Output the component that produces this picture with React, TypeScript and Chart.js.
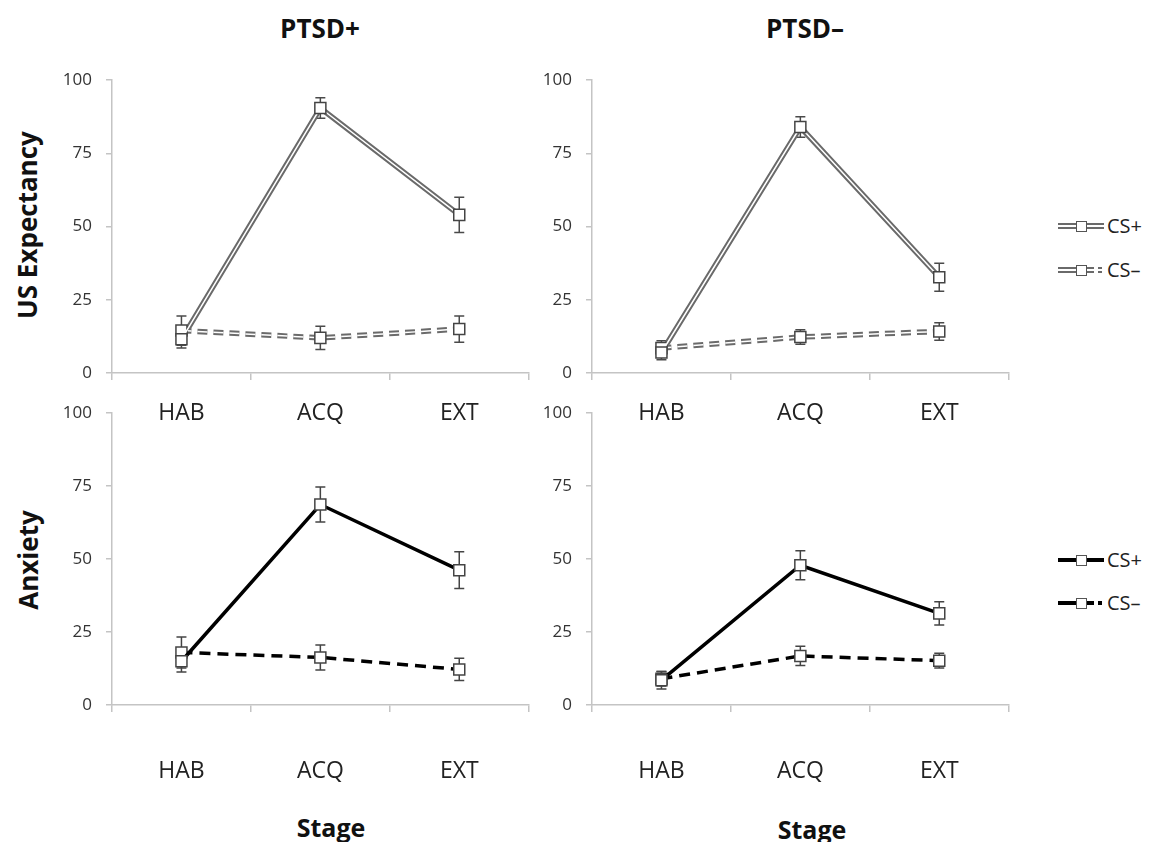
import React, { useEffect, useRef } from "react";
import { Chart, registerables } from "chart.js";

Chart.register(...registerables);

const FONT = "'Open Sans', 'DejaVu Sans', sans-serif";

const stages = ["HAB", "ACQ", "EXT"];
const yTickStep = 25;
const yMin = 0;
const yMax = 100;

const panelTitles = ["PTSD+", "PTSD–"];
const rowTitles = ["US Expectancy", "Anxiety"];
const xTitle = "Stage";
const seriesNames = ["CS+", "CS–"];

// US Expectancy, PTSD+
const expPosCSPlus = [11.5, 90.5, 54];
const expPosCSPlusErr = [3, 3.5, 6];
const expPosCSMinus = [14.5, 12, 15];
const expPosCSMinusErr = [5, 4, 4.5];

// US Expectancy, PTSD–
const expNegCSPlus = [7, 84, 32.7];
const expNegCSPlusErr = [2.5, 3.5, 4.8];
const expNegCSMinus = [8.5, 12.3, 14.2];
const expNegCSMinusErr = [2.5, 2.5, 3];

// Anxiety, PTSD+
const anxPosCSPlus = [15, 68.7, 46.2];
const anxPosCSPlusErr = [3.7, 6, 6.3];
const anxPosCSMinus = [18, 16.3, 12.2];
const anxPosCSMinusErr = [5.3, 4.3, 3.8];

// Anxiety, PTSD–
const anxNegCSPlus = [8.5, 47.9, 31.4];
const anxNegCSPlusErr = [3, 5, 4];
const anxNegCSMinus = [9, 16.8, 15.2];
const anxNegCSMinusErr = [2.5, 3.3, 2.5];

const errorBarPlugin = {
  id: "errorBars",
  beforeDatasetsDraw(chart: any) {
    const { ctx } = chart;
    const ys = chart.scales.y;
    chart.data.datasets.forEach((ds: any, i: number) => {
      if (!ds.errors) return;
      const meta = chart.getDatasetMeta(i);
      meta.data.forEach((pt: any, j: number) => {
        const v = ds.data[j];
        const e = ds.errors[j];
        const top = ys.getPixelForValue(v + e);
        const bot = ys.getPixelForValue(v - e);
        ctx.save();
        ctx.strokeStyle = ds.errorColor || "#444";
        ctx.lineWidth = 1.5;
        ctx.setLineDash([]);
        ctx.beginPath();
        ctx.moveTo(pt.x, top);
        ctx.lineTo(pt.x, bot);
        ctx.moveTo(pt.x - 5, top);
        ctx.lineTo(pt.x + 5, top);
        ctx.moveTo(pt.x - 5, bot);
        ctx.lineTo(pt.x + 5, bot);
        ctx.stroke();
        ctx.restore();
      });
    });
  },
};

type PanelProps = {
  left: number;
  top: number;
  width: number;
  height: number;
  xHeight: number;
  xPad: number;
  kind: "double" | "black";
  plus: number[];
  plusErr: number[];
  minus: number[];
  minusErr: number[];
};

function Panel(p: PanelProps) {
  const ref = useRef<HTMLCanvasElement | null>(null);
  useEffect(() => {
    if (!ref.current) return;
    const point = {
      pointStyle: "rect",
      pointRadius: 7.8,
      pointHoverRadius: 7.8,
      pointBackgroundColor: "#ffffff",
      pointBorderColor: "#444444",
      pointBorderWidth: 1.5,
    };
    const dash = [10, 6];
    let datasets: any[];
    if (p.kind === "double") {
      datasets = [
        { label: seriesNames[0], data: p.plus, errors: p.plusErr, errorColor: "#4a4a4a", borderColor: "#ffffff", borderWidth: 1.5, ...point },
        { label: seriesNames[1], data: p.minus, errors: p.minusErr, errorColor: "#4a4a4a", borderColor: "#ffffff", borderWidth: 1.5, borderDash: dash, ...point },
        { label: "outer+", data: p.plus, borderColor: "#6a6a6a", borderWidth: 5.5, pointRadius: 0 },
        { label: "outer-", data: p.minus, borderColor: "#6a6a6a", borderWidth: 5.5, borderDash: dash, pointRadius: 0 },
      ];
    } else {
      datasets = [
        { label: seriesNames[0], data: p.plus, errors: p.plusErr, errorColor: "#444", borderColor: "#000000", borderWidth: 3.5, ...point },
        { label: seriesNames[1], data: p.minus, errors: p.minusErr, errorColor: "#444", borderColor: "#000000", borderWidth: 3.5, borderDash: [11, 7], ...point },
      ];
    }
    const chart = new Chart(ref.current, {
      type: "line",
      data: { labels: stages, datasets },
      plugins: [errorBarPlugin],
      options: {
        animation: false,
        responsive: false,
        maintainAspectRatio: false,
        layout: { padding: { top: 0, right: 0, bottom: 0, left: 0 } },
        plugins: { legend: { display: false }, tooltip: { enabled: false } },
        elements: { line: { tension: 0 } },
        scales: {
          x: {
            type: "category",
            offset: true,
            grid: { offset: true, drawOnChartArea: false, drawTicks: true, tickLength: 7, color: "#c4c4c4", lineWidth: 1.5 },
            border: { color: "#c4c4c4", width: 1.5 },
            ticks: { font: { family: FONT, size: 23 }, color: "#222", padding: p.xPad, maxRotation: 0 },
            afterFit: (s: any) => {
              s.height = p.xHeight;
            },
          },
          y: {
            min: yMin,
            max: yMax,
            grid: { drawOnChartArea: false, drawTicks: true, tickLength: 6, color: "#c4c4c4", lineWidth: 1.5 },
            border: { color: "#c4c4c4", width: 1.5 },
            ticks: { stepSize: yTickStep, font: { family: FONT, size: 17 }, color: "#333", padding: 14 },
            afterFit: (s: any) => {
              s.width = 52;
            },
          },
        },
      } as any,
    });
    return () => chart.destroy();
  }, []);
  return (
    <canvas
      ref={ref}
      width={p.width}
      height={p.height}
      style={{ position: "absolute", left: p.left, top: p.top, width: p.width, height: p.height }}
    />
  );
}

function LegendLine({ y, kind, dashed, label }: { y: number; kind: "double" | "black"; dashed: boolean; label: string }) {
  const thick = kind === "double" ? 5.5 : 4;
  const col = kind === "double" ? "#6a6a6a" : "#000";
  const seg = (x0: number, x1: number, key: string) => (
    <div key={key} style={{ position: "absolute", left: x0, top: y - thick / 2, width: x1 - x0, height: thick, background: col }}>
      {kind === "double" ? (
        <div style={{ position: "absolute", left: 0, right: 0, top: (thick - 1.5) / 2, height: 1.5, background: "#fff" }} />
      ) : null}
    </div>
  );
  const parts = dashed
    ? [seg(1058, 1076, "a"), seg(1087, 1094, "b"), seg(1098, 1102, "c")]
    : [seg(1058, 1104, "a")];
  return (
    <>
      {parts}
      <div
        style={{
          position: "absolute",
          left: 1076,
          top: y - 5.5,
          width: 9,
          height: 9,
          background: "#fff",
          border: "1.4px solid #555",
        }}
      />
      <div
        style={{
          position: "absolute",
          left: 1107,
          top: y - 14,
          fontFamily: FONT,
          fontSize: 20,
          lineHeight: "28px",
          color: "#222",
        }}
      >
        {label}
      </div>
    </>
  );
}

const textStyle = (extra: any) => ({
  position: "absolute" as const,
  fontFamily: FONT,
  fontWeight: 700,
  color: "#111",
  whiteSpace: "nowrap" as const,
  ...extra,
});

export default function App() {
  return (
    <div style={{ position: "absolute", left: 0, top: 0, width: 1151, height: 842, background: "#fff", overflow: "hidden" }}>
      <div style={textStyle({ left: 220, top: 10, width: 200, textAlign: "center", fontSize: 26, lineHeight: "36px" })}>{panelTitles[0]}</div>
      <div style={textStyle({ left: 705, top: 10, width: 200, textAlign: "center", fontSize: 26, lineHeight: "36px" })}>{panelTitles[1]}</div>

      <div style={textStyle({ left: 27, top: 225, fontSize: 26, lineHeight: "34px", transform: "translate(-50%, -50%) rotate(-90deg)" })}>{rowTitles[0]}</div>
      <div style={textStyle({ left: 28, top: 560, fontSize: 26, lineHeight: "34px", transform: "translate(-50%, -50%) rotate(-90deg)" })}>{rowTitles[1]}</div>

      <div style={textStyle({ left: 231, top: 809, width: 200, textAlign: "center", fontSize: 25, lineHeight: "36px" })}>{xTitle}</div>
      <div style={textStyle({ left: 712, top: 811, width: 200, textAlign: "center", fontSize: 25, lineHeight: "36px" })}>{xTitle}</div>

      <Panel left={60} top={56} width={478} height={374} xHeight={57} xPad={20} kind="double"
        plus={expPosCSPlus} plusErr={expPosCSPlusErr} minus={expPosCSMinus} minusErr={expPosCSMinusErr} />
      <Panel left={540} top={56} width={478} height={374} xHeight={57} xPad={20} kind="double"
        plus={expNegCSPlus} plusErr={expNegCSPlusErr} minus={expNegCSMinus} minusErr={expNegCSMinusErr} />
      <Panel left={60} top={389} width={478} height={396} xHeight={80} xPad={46} kind="black"
        plus={anxPosCSPlus} plusErr={anxPosCSPlusErr} minus={anxPosCSMinus} minusErr={anxPosCSMinusErr} />
      <Panel left={540} top={389} width={478} height={396} xHeight={80} xPad={46} kind="black"
        plus={anxNegCSPlus} plusErr={anxNegCSPlusErr} minus={anxNegCSMinus} minusErr={anxNegCSMinusErr} />

      <LegendLine y={226} kind="double" dashed={false} label={seriesNames[0]} />
      <LegendLine y={270} kind="double" dashed={true} label={seriesNames[1]} />
      <LegendLine y={560} kind="black" dashed={false} label={seriesNames[0]} />
      <LegendLine y={603} kind="black" dashed={true} label={seriesNames[1]} />
    </div>
  );
}
